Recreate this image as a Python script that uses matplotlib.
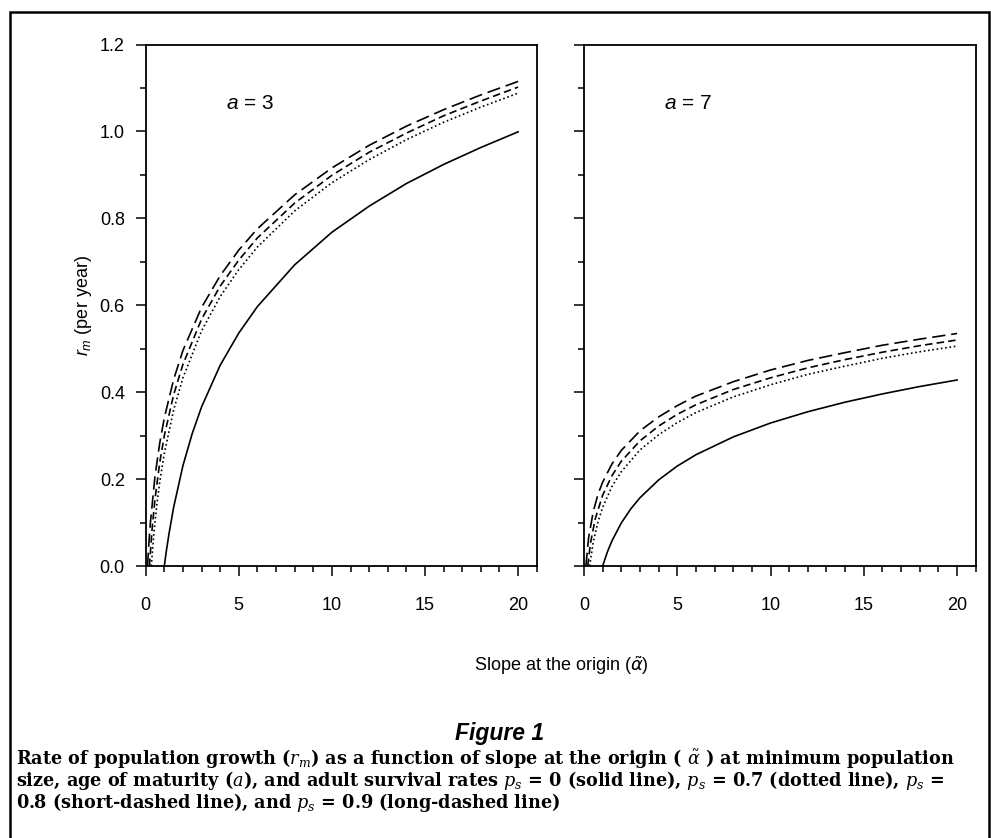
import matplotlib
matplotlib.use("Agg")
import matplotlib.pyplot as plt
from matplotlib.patches import Rectangle
from matplotlib.ticker import MultipleLocator

plt.rcParams['font.family'] = 'Liberation Sans'
plt.rcParams['mathtext.fontset'] = 'custom'
plt.rcParams['mathtext.rm'] = 'Liberation Sans'
plt.rcParams['mathtext.it'] = 'Liberation Sans:italic'
plt.rcParams['mathtext.bf'] = 'Liberation Sans:bold'

# slope at the origin (x) and r_m (per year) for each adult survival rate
# age of maturity a = 3
a3_x_ps0 = [1, 1.1, 1.25, 1.5, 2, 2.5, 3, 4, 5, 6, 8, 10, 12, 14, 16, 18, 20]
a3_rm_ps0 = [0, 0.032, 0.074, 0.135, 0.231, 0.305, 0.366, 0.462, 0.536, 0.597,
             0.693, 0.768, 0.828, 0.880, 0.924, 0.963, 0.999]
a3_x_ps07 = [0.3, 0.45, 0.6, 0.75, 1, 1.5, 2, 3, 4, 5, 6, 8, 10, 12, 14, 16, 18, 20]
a3_rm_ps07 = [0, 0.080, 0.142, 0.192, 0.259, 0.359, 0.433, 0.541, 0.620, 0.682,
              0.734, 0.817, 0.882, 0.935, 0.981, 1.021, 1.056, 1.088]
a3_x_ps08 = [0.2, 0.35, 0.5, 0.75, 1, 1.5, 2, 3, 4, 5, 6, 8, 10, 12, 14, 16, 18, 20]
a3_rm_ps08 = [0, 0.089, 0.154, 0.237, 0.300, 0.394, 0.464, 0.568, 0.644, 0.704,
              0.755, 0.835, 0.899, 0.952, 0.996, 1.036, 1.070, 1.102]
a3_x_ps09 = [0.1, 0.15, 0.25, 0.5, 0.75, 1, 1.5, 2, 3, 4, 5, 6, 8, 10, 12, 14, 16, 18, 20]
a3_rm_ps09 = [0, 0.039, 0.099, 0.207, 0.282, 0.341, 0.429, 0.496, 0.595, 0.668,
              0.727, 0.776, 0.854, 0.916, 0.968, 1.012, 1.050, 1.084, 1.115]

# age of maturity a = 7
a7_x_ps0 = [1, 1.25, 1.5, 2, 2.5, 3, 4, 5, 6, 8, 10, 12, 14, 16, 18, 20]
a7_rm_ps0 = [0, 0.032, 0.058, 0.099, 0.131, 0.157, 0.198, 0.230, 0.256, 0.297,
             0.329, 0.355, 0.377, 0.396, 0.413, 0.428]
a7_x_ps07 = [0.3, 0.5, 0.75, 1, 1.5, 2, 3, 4, 5, 6, 8, 10, 12, 14, 16, 18, 20]
a7_rm_ps07 = [0, 0.056, 0.102, 0.135, 0.183, 0.217, 0.267, 0.302, 0.330, 0.353,
              0.389, 0.417, 0.441, 0.460, 0.478, 0.493, 0.506]
a7_x_ps08 = [0.2, 0.35, 0.6, 1, 1.5, 2, 3, 4, 5, 6, 8, 10, 12, 14, 16, 18, 20]
a7_rm_ps08 = [0, 0.053, 0.108, 0.163, 0.208, 0.241, 0.288, 0.322, 0.349, 0.371,
              0.406, 0.433, 0.456, 0.475, 0.492, 0.507, 0.520]
a7_x_ps09 = [0.1, 0.25, 0.5, 0.75, 1, 1.5, 2, 3, 4, 5, 6, 8, 10, 12, 14, 16, 18, 20]
a7_rm_ps09 = [0, 0.066, 0.126, 0.165, 0.193, 0.235, 0.266, 0.311, 0.343, 0.369,
              0.391, 0.424, 0.451, 0.473, 0.491, 0.508, 0.522, 0.535]

x_ticks = [0, 5, 10, 15, 20]
y_ticks = [0.0, 0.2, 0.4, 0.6, 0.8, 1.0, 1.2]

W, H = 991, 838
fig = plt.figure(figsize=(W / 100, H / 100), dpi=100)


def px(x, y):
    """pixel position (from top-left) -> figure fraction"""
    return x / W, 1 - y / H


def draw_panel(ax, curves, label, show_ylabels):
    styles = [
        dict(linestyle='-'),
        dict(linestyle=(0, (1, 1.6))),
        dict(linestyle=(0, (4.5, 2.5))),
        dict(linestyle=(0, (8, 3.5))),
    ]
    for (xs, ys), st in zip(curves, styles):
        ax.plot(xs, ys, color='black', lw=1.2, **st)
    ax.set_xlim(0, 21)
    ax.set_ylim(0, 1.2)
    ax.set_xticks(x_ticks)
    ax.set_yticks(y_ticks)
    ax.xaxis.set_minor_locator(MultipleLocator(1))
    ax.yaxis.set_minor_locator(MultipleLocator(0.1))
    ax.tick_params(which='major', direction='out', length=7, width=1.1,
                   labelsize=13, top=False, right=False)
    ax.tick_params(which='minor', direction='out', length=4, width=1.1,
                   top=False, right=False)
    ax.tick_params(axis='x', which='major', pad=15)
    ax.tick_params(axis='y', which='major', pad=8)
    if show_ylabels:
        ax.set_yticklabels([f'{v:.1f}' for v in y_ticks])
    else:
        ax.set_yticklabels([])
    for s in ax.spines.values():
        s.set_linewidth(1.3)
    ax.text(5.6, 1.065, label, fontsize=15, ha='center', va='center')


ax1 = fig.add_axes([145.7 / W, 1 - 566 / H, 391 / W, 521.5 / H])
draw_panel(ax1, [(a3_x_ps0, a3_rm_ps0), (a3_x_ps07, a3_rm_ps07),
                 (a3_x_ps08, a3_rm_ps08), (a3_x_ps09, a3_rm_ps09)],
           '$a$ = 3', True)
ax1.set_ylabel('$r_m$ (per year)', fontsize=13, labelpad=4)

ax2 = fig.add_axes([584 / W, 1 - 566 / H, 391.7 / W, 521.5 / H])
draw_panel(ax2, [(a7_x_ps0, a7_rm_ps0), (a7_x_ps07, a7_rm_ps07),
                 (a7_x_ps08, a7_rm_ps08), (a7_x_ps09, a7_rm_ps09)],
           '$a$ = 7', False)

fig.text(*px(561, 666), r'Slope at the origin ($\tilde{\alpha}$)', fontsize=13,
         ha='center', va='center', math_fontfamily='dejavusans')

fig.text(*px(500, 733), 'Figure 1', fontsize=16.5, fontweight='bold',
         fontstyle='italic', ha='center', va='center')

caption = [
    r'Rate of population growth ($r_m$) as a function of slope at the origin ( $\tilde{\alpha}$ ) at minimum population',
    r'size, age of maturity ($a$), and adult survival rates $p_s$ = 0 (solid line), $p_s$ = 0.7 (dotted line), $p_s$ =',
    r'0.8 (short-dashed line), and $p_s$ = 0.9 (long-dashed line)',
]
for i, line in enumerate(caption):
    fig.text(*px(16, 759 + i * 21.5), line, fontsize=12.7, family='DejaVu Serif',
             fontweight='bold', math_fontfamily='dejavuserif',
             ha='left', va='center')

# outer frame around the figure and its caption
fig.patches.append(Rectangle(px(10, 860), (989 - 10) / W, (860 - 12) / H,
                             transform=fig.transFigure, fill=False,
                             edgecolor='black', lw=1.8))

fig.savefig('out.png', dpi=100)
